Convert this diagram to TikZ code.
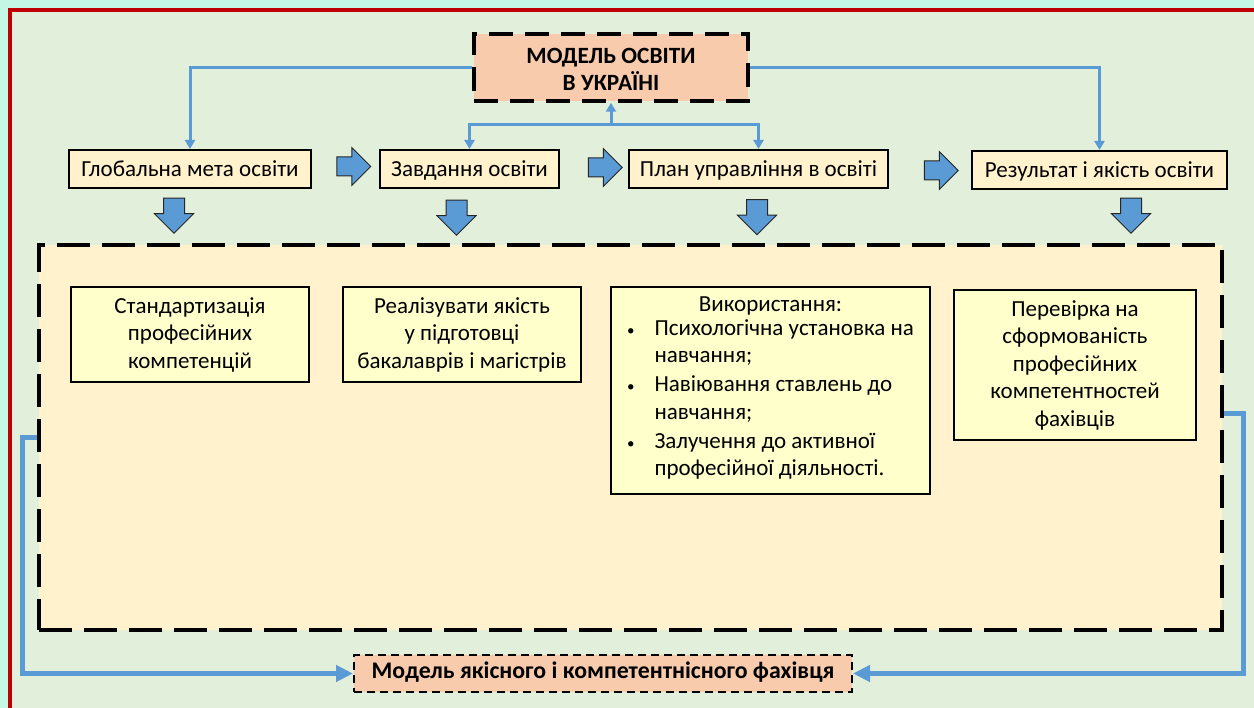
\documentclass[tikz,border=0pt]{standalone}
\usepackage{fontspec}
\setmainfont{Carlito}
\usetikzlibrary{shapes.arrows,arrows.meta}

\definecolor{mintbg}{RGB}{196,247,228}
\definecolor{framered}{RGB}{192,0,0}
\definecolor{panelgreen}{RGB}{226,239,218}
\definecolor{cream}{RGB}{255,242,204}
\definecolor{paleyellow}{RGB}{255,255,204}
\definecolor{salmon}{RGB}{248,203,173}
\definecolor{linkblue}{RGB}{91,155,213}

\tikzset{
  txt/.style={font=\fontsize{23}{27.5}\selectfont},
  rowbox/.style={txt, draw, line width=2pt, fill=cream, minimum height=38pt,
    text height=18pt, text depth=3pt, inner sep=0pt},
  inbox/.style={txt, draw, line width=2pt, fill=paleyellow, align=center, inner sep=0pt},
  headbox/.style={font=\fontsize{23.3}{27.5}\selectfont\bfseries, draw, line width=3.5pt,
    dash pattern=on 24pt off 12pt, fill=salmon, align=center, inner sep=0pt},
  footbox/.style={font=\fontsize{23.8}{27.5}\selectfont\bfseries, draw, line width=2pt,
    dash pattern=on 8pt off 5pt, fill=salmon, text height=16pt, text depth=6pt, inner sep=0pt},
  panel/.style={draw, line width=4pt, dash pattern=on 33pt off 12pt, fill=cream},
  link/.style={draw=linkblue, line width=3pt, -{Triangle[width=10pt,length=9pt]}},
  loop link/.style={draw=linkblue, line width=5pt, -{Triangle[width=16pt,length=17pt]}},
  rarrow/.style={single arrow, draw=black!85, line width=1pt, fill=linkblue,
    minimum height=34pt, minimum width=37pt, single arrow head extend=9.5pt,
    single arrow head indent=0pt, inner sep=0pt},
  darrow/.style={rarrow, rotate=-90, minimum height=35pt, minimum width=38pt,
    single arrow head extend=9pt}
}

\begin{document}
\begin{tikzpicture}[x=1pt, y=-1pt]
  \useasboundingbox (0, 0) rectangle (1254, 708);
  \fill[mintbg] (0, 0) rectangle (1254, 708);
  \fill[panelgreen] (10, 10) rectangle (1254, 708);
  \draw[framered, line width=4pt] (10, 708) -- (10, 10) -- (1254, 10);

  \node[headbox, minimum width=274pt, minimum height=67pt] (mod) at (611, 67.5) {\rule{0pt}{19pt}МОДЕЛЬ ОСВІТИ\\В УКРАЇНІ};

  \node[rowbox, minimum width=242pt] (meta) at (190, 169) {Глобальна мета освіти};
  \node[rowbox, minimum width=179pt] (zad) at (469.5, 169) {Завдання освіти};
  \node[rowbox, minimum width=259pt] (plan) at (758.5, 169) {План управління в освіті};
  \node[rowbox, minimum width=255pt] (rez) at (1099.5, 170) {Результат і якість освіти};

  \node[rarrow] (r1) at (349, 166.5) {\rule{0pt}{18pt}};
  \node[rarrow] (r2) at (600.5, 167.5) {\rule{0pt}{18pt}};
  \node[rarrow] (r3) at (936.5, 170.5) {\rule{0pt}{18pt}};

  \node[darrow] (d1) at (174, 210.5) {\rule{0pt}{20pt}};
  \node[darrow] (d2) at (456.5, 212.5) {\rule{0pt}{20pt}};
  \node[darrow] (d3) at (757, 212) {\rule{0pt}{20pt}};
  \node[darrow] (d4) at (1131, 210.5) {\rule{0pt}{20pt}};

  \coordinate (fork) at (611, 125);
  \draw[link] (mod.west) -| (meta.north);
  \draw[link] (mod.east) -| (rez.north);
  \draw[link] (fork) -- (mod.south);
  \draw[link] (fork) -| (zad.north);
  \draw[link] (fork) -| (plan.north);

  \node[panel, minimum width=1183pt, minimum height=385pt] (big) at (630.5, 437.5) {};

  \node[inbox, minimum width=238pt, minimum height=95pt] (std) at (190, 334.5) {Стандартизація\\професійних\\компетенцій};
  \node[inbox, minimum width=238pt, minimum height=95pt] (real) at (462, 334.5) {Реалізувати якість\\у підготовці\\бакалаврів і магістрів};
  \node[inbox, minimum width=319pt, minimum height=207pt] (use) at (770.5, 390.5) {Використання:\\
    \begin{tabular}{@{}l@{\hspace{20pt}}l@{}}
      {\fontsize{15}{15}\selectfont\textbullet} & Психологічна установка на\\
      & навчання;\\[1.5pt]
      {\fontsize{15}{15}\selectfont\textbullet} & Навіювання ставлень до\\
      & навчання;\\[1.5pt]
      {\fontsize{15}{15}\selectfont\textbullet} & Залучення до активної\\
      & професійної діяльності.
    \end{tabular}};
  \node[inbox, minimum width=242pt, minimum height=150pt] (check) at (1075, 365) {Перевірка на\\сформованість\\професійних\\компетентностей\\фахівців};

  \node[footbox, minimum width=498pt, minimum height=37pt] (bot) at (603, 673.5) {Модель якісного і компетентнісного фахівця};

  \draw[loop link] (big.west) -- ++(-15, 0) |- (bot.west);
  \draw[loop link] ([yshift=24pt]big.east) -- ++(19, 0) |- (bot.east);

\end{tikzpicture}
\end{document}
